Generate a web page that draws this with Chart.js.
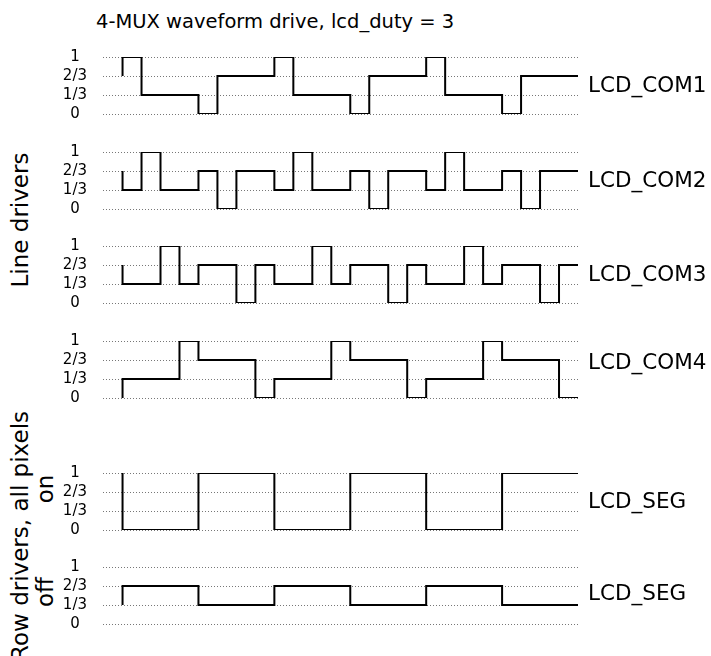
<!DOCTYPE html>
<html>
<head>
<meta charset="utf-8">
<script src="https://cdn.jsdelivr.net/npm/chart.js@4.4.1/dist/chart.umd.min.js"></script>
<style>
  body { margin: 0; background: #fff; }
  #wrap { position: relative; width: 711px; height: 656px; overflow: hidden; font-family: "DejaVu Sans", Verdana, sans-serif; color: #000; }
  #wrap canvas { position: absolute; left: 0; }
  .txt { position: absolute; white-space: nowrap; line-height: 1; }
  .rot { transform: translate(-50%, -50%) rotate(-90deg); font-size: 23px; }
  .nome { font-size: 21.5px; transform: translateY(-50%); }
</style>
</head>
<body>
<div id="wrap">
  <div class="txt" style="left:96px;top:12px;font-size:19.5px">4-MUX waveform drive, lcd_duty = 3</div>
  <div class="txt rot" style="left:20px;top:220px">Line drivers</div>
  <div class="txt rot" style="left:20px;top:536px">Row drivers, all pixels</div>
  <div class="txt rot" style="left:45px;top:489px">on</div>
  <div class="txt rot" style="left:45px;top:592px">off</div>
</div>
<script>
// ===== Dados =====
const tempos = [0, 1, 2, 3, 4, 5, 6, 7, 8, 9, 10, 11, 12, 13, 14, 15, 16, 17, 18, 19, 20, 21, 22, 23, 24];
const tickValores = [0, 1/3, 2/3, 1];
const tickRotulos = ["0", "1/3", "2/3", "1"];
const nomes = ["LCD_COM1", "LCD_COM2", "LCD_COM3", "LCD_COM4", "LCD_SEG", "LCD_SEG"];

// niveis em terços da tensão; o primeiro valor é o nível antes de t = 0
const com1   = [2, 3, 1, 1, 1, 0, 2, 2, 2, 3, 1, 1, 1, 0, 2, 2, 2, 3, 1, 1, 1, 0, 2, 2, 2];
const com2   = [2, 1, 3, 1, 1, 2, 0, 2, 2, 1, 3, 1, 1, 2, 0, 2, 2, 1, 3, 1, 1, 2, 0, 2, 2];
const com3   = [2, 1, 1, 3, 1, 2, 2, 0, 2, 1, 1, 3, 1, 2, 2, 0, 2, 1, 1, 3, 1, 2, 2, 0, 2];
const com4   = [0, 1, 1, 1, 3, 2, 2, 2, 0, 1, 1, 1, 3, 2, 2, 2, 0, 1, 1, 1, 3, 2, 2, 2, 0];
const segOn  = [3, 0, 0, 0, 0, 3, 3, 3, 3, 0, 0, 0, 0, 3, 3, 3, 3, 0, 0, 0, 0, 3, 3, 3, 3];
const segOff = [1, 2, 2, 2, 2, 1, 1, 1, 1, 2, 2, 2, 2, 1, 1, 1, 1, 2, 2, 2, 2, 1, 1, 1, 1];
const ondas = [com1, com2, com3, com4, segOn, segOff];

// ===== Layout =====
const topos = [57, 152, 246, 341, 473, 567];   // linha do "1" de cada painel
const rotuloY = [85, 180, 274, 362, 501, 593];
const alturaPainel = 57;
const folga = 26;   // precisa cobrir o padding que o eixo y pede (meio rótulo + ticks.padding)
const wrap = document.getElementById("wrap");

Chart.defaults.font.family = '"DejaVu Sans", Verdana, sans-serif';

// ===== Painéis =====
ondas.forEach((onda, i) => {
  const canvas = document.createElement("canvas");
  canvas.width = 711;
  canvas.height = alturaPainel + 2 * folga;
  canvas.style.top = (topos[i] - folga) + "px";
  wrap.appendChild(canvas);

  new Chart(canvas, {
    type: "line",
    data: {
      datasets: [{
        data: tempos.map((t, k) => ({ x: t, y: onda[k] / 3 })),
        stepped: "after",
        borderColor: "#000",
        borderWidth: 2,
        pointRadius: 0,
        fill: false
      }]
    },
    options: {
      responsive: false,
      animation: false,
      events: [],
      layout: { padding: { top: folga, bottom: folga, left: 0, right: 133 } },
      plugins: { legend: { display: false }, tooltip: { enabled: false } },
      scales: {
        x: { type: "linear", min: -1.03, max: 24, display: false },
        y: {
          min: 0,
          max: 1,
          afterBuildTicks: s => { s.ticks = tickValores.map(v => ({ value: v })); },
          afterFit: s => { s.width = 103; },
          grid: { color: "#777", lineWidth: 1, drawTicks: false },
          border: { display: false, dash: [1, 2] },
          ticks: {
            autoSkip: false,
            crossAlign: "center",
            padding: 16,
            color: "#000",
            font: { size: 15 },
            callback: (v, k) => tickRotulos[k]
          }
        }
      }
    }
  });

  const rotulo = document.createElement("div");
  rotulo.className = "txt nome";
  rotulo.style.left = "588px";
  rotulo.style.top = rotuloY[i] + "px";
  rotulo.textContent = nomes[i];
  wrap.appendChild(rotulo);
});
</script>
</body>
</html>
